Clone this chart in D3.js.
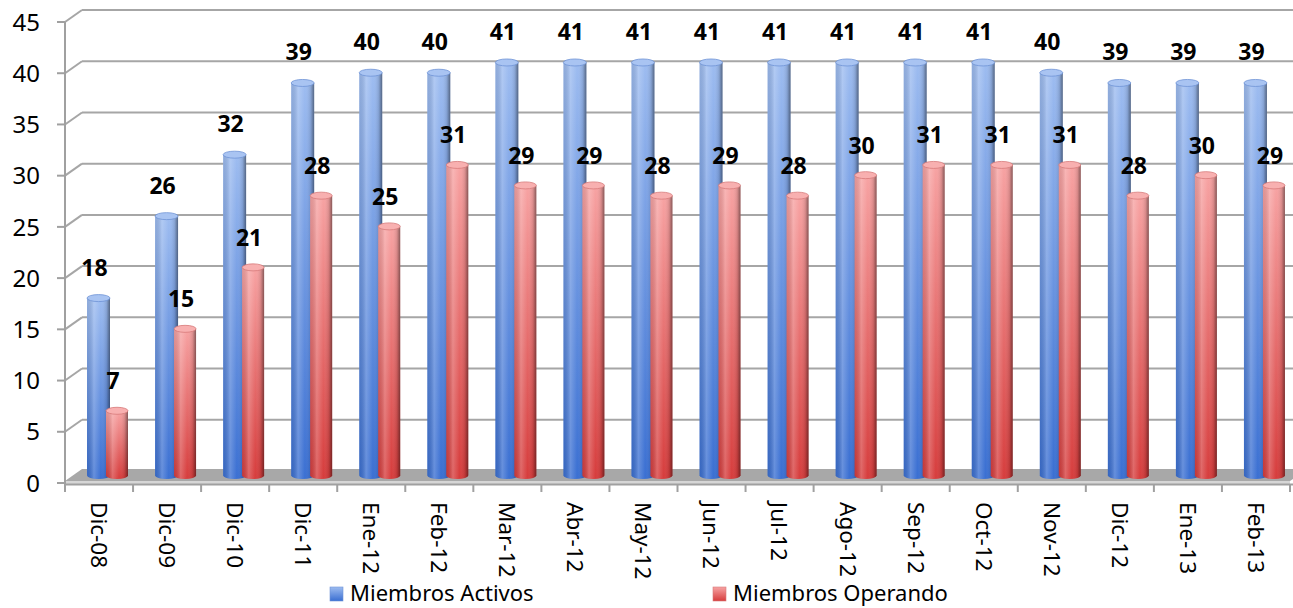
<!DOCTYPE html>
<html><head><meta charset="utf-8">
<script src="https://cdn.jsdelivr.net/npm/d3@7"></script>
<style>body{margin:0;background:#fff}svg{display:block}</style>
</head><body>
<svg id="c" width="1293" height="608"></svg>
<script>
const categories = ["Dic-08","Dic-09","Dic-10","Dic-11","Ene-12","Feb-12","Mar-12","Abr-12","May-12","Jun-12","Jul-12","Ago-12","Sep-12","Oct-12","Nov-12","Dic-12","Ene-13","Feb-13"];
const activos = [18,26,32,39,40,40,41,41,41,41,41,41,41,41,40,39,39,39];
const operando = [7,15,21,28,25,31,29,29,28,29,28,30,31,31,31,28,30,29];
const seriesNames = ["Miembros Activos","Miembros Operando"];
const yTicks = [0,5,10,15,20,25,30,35,40,45];

const svg = d3.select("#c");
const font = "'Noto Sans', 'Open Sans', sans-serif";
const DX = 17, DY = -12;
const yFront = d3.scaleLinear().domain([0,45]).range([483,22]);
const yBar = d3.scaleLinear().domain([0,45]).range([479,18]);
const x = d3.scaleBand().domain(categories).range([65,1290]);
const sx = d3.scalePoint().domain(seriesNames).range([33.5,52]);
const barW = {"Miembros Activos":23,"Miembros Operando":22};
const colors = {
  "Miembros Activos":{top:"#9dbcf0",bot:"#3a6fd2",cap:"#a9c4f2",edge:"#6f93d6"},
  "Miembros Operando":{top:"#f7a3a3",bot:"#d63c3c",cap:"#f8b0b0",edge:"#d77a7a"}
};

const defs = svg.append("defs");
seriesNames.forEach((s,i)=>{
  const g = defs.append("linearGradient").attr("id","v"+i).attr("x1",0).attr("y1",0).attr("x2",0).attr("y2",1);
  g.append("stop").attr("offset",0).attr("stop-color",colors[s].top);
  g.append("stop").attr("offset",1).attr("stop-color",colors[s].bot);
});
const h = defs.append("linearGradient").attr("id","h").attr("x1",0).attr("y1",0).attr("x2",1).attr("y2",0);
[[0,"#000",0.08],[0.3,"#fff",0.22],[0.6,"#fff",0.0],[0.85,"#000",0.12],[1,"#000",0.45]].forEach(d=>
  h.append("stop").attr("offset",d[0]).attr("stop-color",d[1]).attr("stop-opacity",d[2]));

// back wall gridlines + left wall diagonals
const grid = svg.append("g");
yTicks.forEach(t=>{
  const yf = yFront(t);
  if (t>0) {
    grid.append("line").attr("x1",65).attr("y1",yf).attr("x2",65+DX).attr("y2",yf+DY)
      .attr("stroke","#a6a6a6").attr("stroke-width",2);
    grid.append("line").attr("x1",65+DX).attr("y1",yf+DY).attr("x2",1293).attr("y2",yf+DY)
      .attr("stroke","#a6a6a6").attr("stroke-width",2);
  }
});

// floor
const y0 = yFront(0);
svg.append("path")
  .attr("d",`M65,${y0-2} L1290,${y0-2} L${1290+DX},${y0-2+DY} L${65+DX},${y0-2+DY} Z`)
  .attr("fill","#a8a8a8");
svg.append("rect").attr("x",65).attr("y",y0-2).attr("width",1225).attr("height",3).attr("fill","#d6d6d6");
svg.append("line").attr("x1",65).attr("y1",y0+1.5).attr("x2",1293).attr("y2",y0+1.5).attr("stroke","#a0a0a0").attr("stroke-width",2);

// y axis
svg.append("line").attr("x1",65).attr("y1",yFront(45)).attr("x2",65).attr("y2",y0+9).attr("stroke","#a0a0a0").attr("stroke-width",2);
yTicks.forEach(t=>{
  svg.append("line").attr("x1",57).attr("y1",yFront(t)).attr("x2",65).attr("y2",yFront(t)).attr("stroke","#a0a0a0").attr("stroke-width",2);
  svg.append("text").attr("x",40).attr("y",yFront(t)).attr("dy","0.36em").attr("text-anchor","end")
    .attr("font-family",font).attr("font-size",24).attr("fill","#000").text(t);
});
// x ticks
categories.forEach(c=>{
  svg.append("line").attr("x1",x(c)+x.bandwidth()).attr("y1",y0+1).attr("x2",x(c)+x.bandwidth()).attr("y2",y0+9)
    .attr("stroke","#a0a0a0").attr("stroke-width",2);
  svg.append("text").attr("transform",`translate(${x(c)+x.bandwidth()/2},${y0+19}) rotate(90)`)
    .attr("dy","0.36em").attr("font-family",font).attr("font-size",22.5).attr("fill","#000").text(c);
});

// bars
const data = [activos, operando];
const barsG = svg.append("g");
categories.forEach((c,ci)=>{
  seriesNames.forEach((s,si)=>{
    const v = data[si][ci];
    const w = barW[s], rx = w/2, ry = 3.5;
    const cx = x(c)+sx(s);
    const x0 = cx-rx, x1 = cx+rx;
    const yt = yBar(v)+ry, yb = yBar(0)-ry;
    const d = `M${x0},${yt} L${x0},${yb} A${rx},${ry} 0 0 0 ${x1},${yb} L${x1},${yt} Z`;
    barsG.append("path").attr("d",d).attr("fill",`url(#v${si})`);
    barsG.append("path").attr("d",d).attr("fill","url(#h)");
    barsG.append("ellipse").attr("cx",cx).attr("cy",yt).attr("rx",rx).attr("ry",ry)
      .attr("fill",colors[s].cap).attr("stroke",colors[s].edge).attr("stroke-width",0.8);
  });
});

// labels
categories.forEach((c,ci)=>{
  seriesNames.forEach((s,si)=>{
    const v = data[si][ci];
    svg.append("text").attr("x",x(c)+sx(s)-4).attr("y",yBar(v)-(si===0?19:18))
      .attr("text-anchor","middle").attr("font-family",font).attr("font-weight","bold")
      .attr("font-size",23).attr("fill","#000").text(v);
  });
});

// legend
const leg = [[330,350],[713,733]];
seriesNames.forEach((s,si)=>{
  svg.append("rect").attr("x",leg[si][0]).attr("y",587).attr("width",13).attr("height",14)
    .attr("fill",`url(#v${si})`).attr("stroke",colors[s].edge).attr("stroke-width",0.6);
  svg.append("text").attr("x",leg[si][1]).attr("y",601).attr("font-family",font).attr("font-size",22)
    .attr("fill","#000").text(s);
});
</script>
</body></html>
